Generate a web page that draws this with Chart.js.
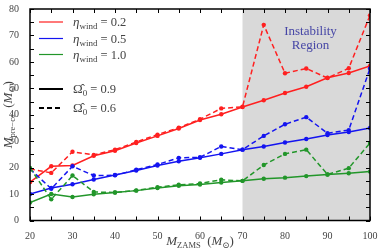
<!DOCTYPE html>
<html>
<head>
<meta charset="utf-8">
<script src="https://cdn.jsdelivr.net/npm/chart.js@4.4.0/dist/chart.umd.min.js"></script>
<style>
  html, body { margin: 0; padding: 0; background: #fff; }
  #wrap { width: 381px; height: 250px; }
</style>
</head>
<body>
<div id="wrap"><canvas id="plot-id" width="381" height="250"></canvas></div>
<script>
// M_ZAMS values (x axis)
let mzams = [20, 25, 30, 35, 40, 45, 50, 55, 60, 65, 70, 75, 80, 85, 90, 95, 100];
// M_pre-cc, Omega0 = 0.9 (solid) and 0.6 (dashed)
let red09 = [14.5, 20.5, 20.8, 24.5, 26.4, 29.3, 32.0, 34.8, 38.0, 40.2, 42.9, 45.5, 48.2, 50.6, 54.0, 55.8, 58.5];
let red06 = [19.5, 18.0, 26.0, 24.8, 26.8, 29.7, 32.5, 35.1, 38.3, 42.4, 43.0, 74.0, 55.7, 57.5, 53.9, 57.6, 77.6];
let blue09 = [10.0, 12.3, 13.7, 15.5, 17.2, 18.9, 20.8, 22.4, 23.7, 25.2, 26.8, 28.0, 29.5, 30.8, 32.3, 33.5, 35.0];
let blue06 = [19.5, 12.0, 20.5, 17.0, 17.1, 19.2, 21.2, 23.7, 23.9, 28.0, 26.8, 32.0, 36.4, 39.1, 33.0, 34.2, 57.5];
let green09 = [6.8, 10.0, 8.9, 9.9, 10.6, 11.3, 12.3, 13.1, 13.6, 14.4, 15.0, 15.8, 16.2, 16.8, 17.4, 17.9, 18.5];
let green06 = [19.9, 8.0, 17.0, 10.8, 10.6, 11.4, 12.6, 13.5, 14.0, 15.4, 15.0, 21.0, 25.2, 26.8, 17.4, 19.8, 29.3];
let region = [70, 100];
let etas = ['0.2', '0.5', '1.0'];
let omegas = ['0.9', '0.6'];

const RED = '#ff2020', BLUE = '#1414f0', GREEN = '#22962a';
const SERIF = '"Liberation Serif", "DejaVu Serif", serif';

function pts(ys) {
    return mzams.map((x, i) => ({ x: x, y: ys[i] }));
}
function ds(ys, color, dashed) {
    return {
        data: pts(ys),
        borderColor: color,
        backgroundColor: color,
        borderWidth: 1.5,
        borderDash: dashed ? [5, 3] : [],
        pointRadius: 2.2,
        pointHoverRadius: 2.2,
        pointBorderWidth: 0,
        showLine: true,
        fill: false,
        tension: 0
    };
}

// draw text made of pieces (italic, subscripts)
function mathText(ctx, x, y, parts, align) {
    let total = 0;
    parts.forEach(p => {
        ctx.font = (p.it ? 'italic ' : '') + p.size + 'px ' + SERIF;
        p.w = ctx.measureText(p.t).width;
        total += p.w;
    });
    let cx = align === 'center' ? x - total / 2 : x;
    ctx.textAlign = 'left';
    ctx.textBaseline = 'alphabetic';
    parts.forEach(p => {
        ctx.font = (p.it ? 'italic ' : '') + p.size + 'px ' + SERIF;
        ctx.fillText(p.t, cx, y + (p.dy || 0));
        cx += p.w;
    });
}

const decor = {
    id: 'decor',
    beforeDatasetsDraw(chart) {
        const ctx = chart.ctx, a = chart.chartArea, xs = chart.scales.x;
        ctx.save();
        ctx.fillStyle = '#d9d9d9';
        let x0 = xs.getPixelForValue(region[0]), x1 = xs.getPixelForValue(region[1]);
        ctx.fillRect(x0, a.top, x1 - x0, a.bottom - a.top);
        ctx.fillStyle = '#4646a6';
        ctx.font = '13px ' + SERIF;
        ctx.textAlign = 'center';
        ctx.textBaseline = 'middle';
        let cx = xs.getPixelForValue(86);
        ctx.fillText('Instability', cx, a.top + 23);
        ctx.fillText('Region', cx, a.top + 37);
        ctx.restore();
    },
    afterDatasetsDraw(chart) {
        const ctx = chart.ctx, a = chart.chartArea, xs = chart.scales.x, ys = chart.scales.y;
        ctx.save();
        // inward ticks
        ctx.strokeStyle = '#000';
        ctx.lineWidth = 1;
        ctx.beginPath();
        for (let v = 20; v <= 100; v += 5) {
            let px = Math.round(xs.getPixelForValue(v)) + 0.5;
            ctx.moveTo(px, a.bottom); ctx.lineTo(px, a.bottom - 4);
            ctx.moveTo(px, a.top); ctx.lineTo(px, a.top + 4);
        }
        for (let v = 0; v <= 80; v += 5) {
            let py = Math.round(ys.getPixelForValue(v)) + 0.5;
            ctx.moveTo(a.left, py); ctx.lineTo(a.left + 4, py);
            ctx.moveTo(a.right, py); ctx.lineTo(a.right - 4, py);
        }
        ctx.stroke();
        // frame
        ctx.lineWidth = 1.5;
        ctx.strokeRect(a.left, a.top, a.right - a.left, a.bottom - a.top);

        // legend
        const colors = [RED, BLUE, GREEN];
        const rows = [22, 38.5, 54.5];
        ctx.fillStyle = '#444';
        colors.forEach((c, i) => {
            ctx.strokeStyle = c;
            ctx.lineWidth = 1.2;
            ctx.setLineDash([]);
            ctx.beginPath();
            ctx.moveTo(39, rows[i]); ctx.lineTo(63, rows[i]);
            ctx.stroke();
            mathText(ctx, 73, rows[i] + 4, [
                { t: '\u03b7', it: true, size: 13 },
                { t: 'wind', size: 9, dy: 3 },
                { t: ' = ' + etas[i], size: 12.5 }
            ]);
        });
        const orows = [89, 108];
        omegas.forEach((o, i) => {
            ctx.strokeStyle = '#000';
            ctx.lineWidth = 2;
            ctx.setLineDash(i === 1 ? [5, 3] : []);
            ctx.beginPath();
            ctx.moveTo(39, orows[i]); ctx.lineTo(63, orows[i]);
            ctx.stroke();
            ctx.setLineDash([]);
            mathText(ctx, 73, orows[i] + 4, [
                { t: '\u03a9\u0302', size: 13 },
                { t: '0', size: 9, dy: 3 },
                { t: ' = ' + o, size: 12.5 }
            ]);
        });

        // axis titles
        ctx.fillStyle = '#444';
        mathText(ctx, (a.left + a.right) / 2, 245, [
            { t: 'M', it: true, size: 13 },
            { t: 'ZAMS', size: 8.5, dy: 2.5 },
            { t: '  (', size: 13 },
            { t: 'M', it: true, size: 13 },
            { t: '\u2299', size: 8.5, dy: 2.5 },
            { t: ')', size: 13 }
        ], 'center');
        ctx.translate(12, (a.top + a.bottom) / 2);
        ctx.rotate(-Math.PI / 2);
        mathText(ctx, 0, 0, [
            { t: 'M', it: true, size: 13 },
            { t: 'pre\u2212cc', size: 8.5, dy: 2.5 },
            { t: '  (', size: 13 },
            { t: 'M', it: true, size: 13 },
            { t: '\u2299', size: 8.5, dy: 2.5 },
            { t: ')', size: 13 }
        ], 'center');
        ctx.restore();
    }
};

var ctx = document.getElementById('plot-id');
var chart = new Chart(ctx, {
    type: 'scatter',
    data: {
        datasets: [
            ds(green09, GREEN, false),
            ds(green06, GREEN, true),
            ds(blue09, BLUE, false),
            ds(blue06, BLUE, true),
            ds(red09, RED, false),
            ds(red06, RED, true)
        ]
    },
    options: {
        responsive: false,
        animation: false,
        events: [],
        layout: { padding: { left: 0, right: 11, top: 7, bottom: 0 } },
        scales: {
            x: {
                type: 'linear', min: 20, max: 100,
                grid: { display: false },
                border: { display: false },
                ticks: {
                    stepSize: 10, padding: 2, color: '#444',
                    font: { family: SERIF, size: 10 }
                },
                afterFit(s) { s.height = 29.5; }
            },
            y: {
                type: 'linear', min: 0, max: 80,
                grid: { display: false },
                border: { display: false },
                ticks: {
                    stepSize: 10, padding: 3, color: '#444',
                    font: { family: SERIF, size: 10 }
                },
                afterFit(s) { s.width = 30; }
            }
        },
        plugins: {
            legend: { display: false },
            tooltip: { enabled: false },
            title: { display: false }
        }
    },
    plugins: [decor]
});
</script>
</body>
</html>
